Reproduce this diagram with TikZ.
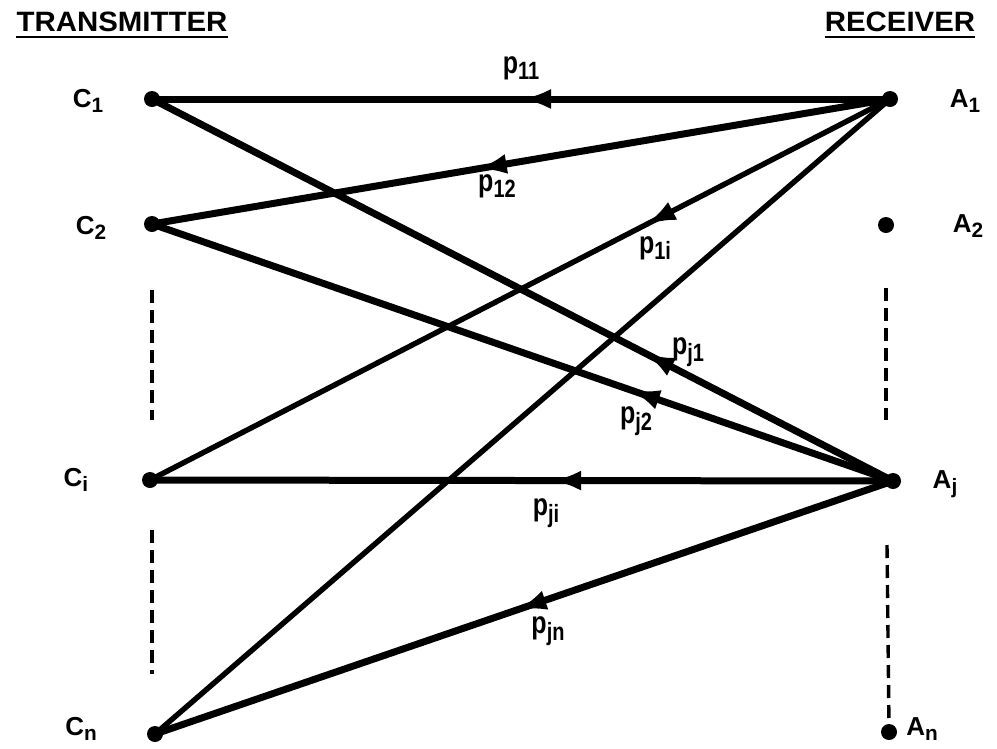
\documentclass[tikz,border=0pt]{standalone}
\usepackage{fontspec}
\setmainfont{Liberation Sans}
\usetikzlibrary{arrows.meta,decorations.markings}
\newcommand\lsub[1]{\raisebox{-0.4ex}{\scalebox{0.8}{#1}}}
\tikzset{
  dot/.style={circle,fill=black,inner sep=0pt,minimum size=16pt},
  lbl/.style={font=\fontsize{26}{30}\selectfont\bfseries,inner sep=0pt},
  plbl/.style={font=\fontsize{25}{29}\selectfont\bfseries,inner sep=0pt,yscale=1.25},
  head/.style={font=\fontsize{28}{32}\selectfont\bfseries,inner sep=0pt,xscale=1.05},
  link/.style={line width=7pt},
  thinlink/.style={line width=5.4pt},
  arr/.style={postaction={decorate,decoration={markings,mark=at position #1 with {\arrow{Latex[length=30pt,width=20pt]}}}}},
  dashline/.style={line width=3.4pt,dash pattern=on 13pt off 7pt}
}
\begin{document}
\begin{tikzpicture}[x=1pt,y=-1pt]
\useasboundingbox (0,0) rectangle (997,748);
% headings
\node[head] (tx) at (122,22) {TRANSMITTER};
\node[head] (rx) at (900,22) {RECEIVER};
\draw[line width=2.6pt] ([yshift=-5pt]tx.south west) -- ([yshift=-5pt]tx.south east);
\draw[line width=2.6pt] ([yshift=-5pt]rx.south west) -- ([yshift=-5pt]rx.south east);
% points
\node[dot] (C1) at (152,99) {};
\node[dot] (C2) at (152,224) {};
\node[dot] (Ci) at (150,480) {};
\node[dot] (Cn) at (155,734) {};
\node[dot] (A1) at (890,99) {};
\node[dot] (A2) at (886,225) {};
\node[dot] (Aj) at (893,481) {};
\node[dot] (An) at (889,732) {};
% point labels
\node[lbl] (lC1) at (88,101) {C\lsub{1}};
\node[lbl] (lC2) at (91,228) {C\lsub{2}};
\node[lbl] (lCi) at (76,480) {C\lsub{i}};
\node[lbl] (lCn) at (81,729) {C\lsub{n}};
\node[lbl] (lA1) at (965,101) {A\lsub{1}};
\node[lbl] (lA2) at (968,226) {A\lsub{2}};
\node[lbl] (lAj) at (945,484) {A\lsub{j}};
\node[lbl] (lAn) at (922,729) {A\lsub{n}};
% dashed continuation lines
\coordinate (l1a) at (152,290); \coordinate (l1b) at (152,420);
\coordinate (l2a) at (152,530); \coordinate (l2b) at (152,674);
\coordinate (r1a) at (886,288); \coordinate (r1b) at (886,420);
\coordinate (r2a) at (887,545); \coordinate (r2b) at (889,726);
\draw[dashline] (l1a) -- (l1b);
\draw[dashline] (l2a) -- (l2b);
\draw[dashline] (r1a) -- (r1b);
\draw[dashline] (r2a) -- (r2b);
% links
\draw[link,arr=0.50] (A1.center) -- (C1.center);
\draw[link,arr=0.56] (A1.center) -- (C2.center);
\draw[thinlink,arr=0.33] (A1.center) -- (Ci.center);
\draw[thinlink] (A1.center) -- (Cn.center);
\draw[link,arr=0.335] (Aj.center) -- (C1.center);
\draw[link,arr=0.355] (Aj.center) -- (C2.center);
\draw[link,arr=0.46] (Aj.center) -- (Ci.center);
\draw[link,arr=0.51] (Aj.center) -- (Cn.center);
% link labels
\node[plbl] (p11) at (521,68) {p\lsub{11}};
\node[plbl] (p12) at (497,186) {p\lsub{12}};
\node[plbl] (p1i) at (655,248) {p\lsub{1i}};
\node[plbl] (pj1) at (688,352) {p\lsub{j1}};
\node[plbl] (pj2) at (636,421) {p\lsub{j2}};
\node[plbl] (pji) at (546,513) {p\lsub{ji}};
\node[plbl] (pjn) at (548,631) {p\lsub{jn}};
\end{tikzpicture}
\end{document}
